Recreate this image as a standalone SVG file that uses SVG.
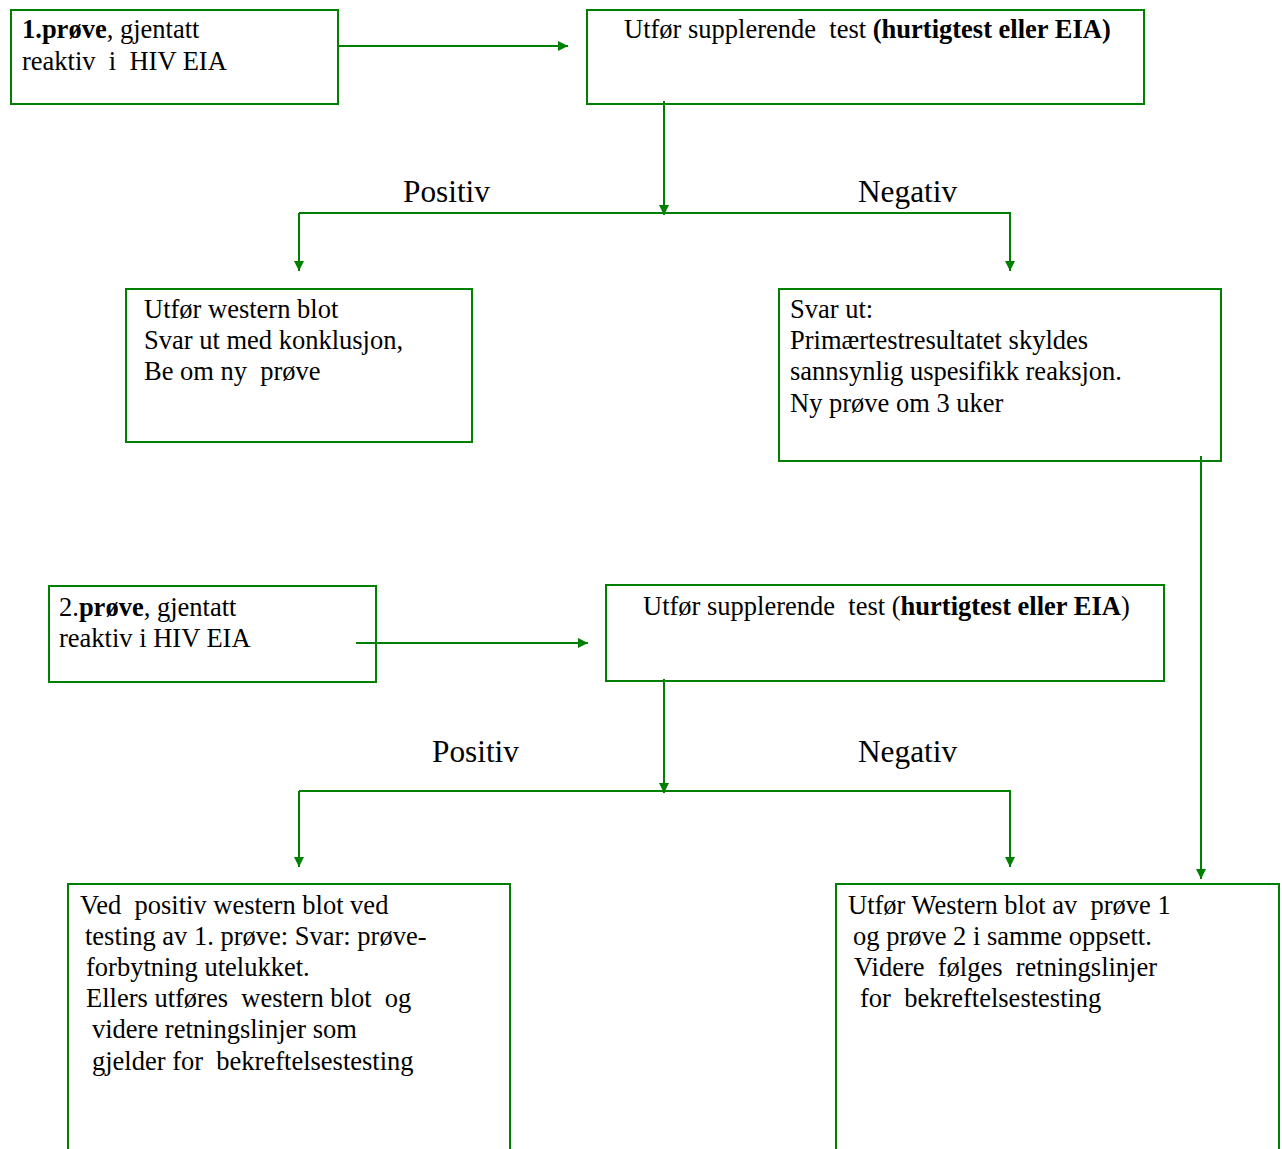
<svg xmlns="http://www.w3.org/2000/svg" width="1282" height="1149" viewBox="0 0 1282 1149">
<defs>
<style>
.box{fill:#fff;stroke:#008000;stroke-width:2}
.t{font-family:"Liberation Serif","Times New Roman",serif;font-size:26.5px;fill:#000;white-space:pre}
.lbl{font-family:"Liberation Serif","Times New Roman",serif;font-size:31.3px;fill:#000;white-space:pre}
.c{fill:none;stroke:#008000;stroke-width:2}
.b{font-weight:bold}
</style>
<marker id="ah" viewBox="0 0 10 10" refX="10" refY="5" markerWidth="5" markerHeight="5" orient="auto" markerUnits="strokeWidth">
<path d="M0,0 L10,5 L0,10 z" fill="#008000"/>
</marker>
</defs>
<rect width="1282" height="1149" fill="#fff"/>
<g id="n1"><rect class="box" x="11" y="10" width="327" height="94"/>
<text class="t" x="22" y="38"><tspan class="b">1.prøve</tspan>, gjentatt</text>
<text class="t" x="22" y="70">reaktiv  i  HIV EIA</text></g>
<g id="n2"><rect class="box" x="587" y="10" width="557" height="94"/>
<text class="t" x="624" y="38">Utfør supplerende  test <tspan class="b">(hurtigtest eller EIA)</tspan></text></g>
<g id="n3"><rect class="box" x="126" y="289" width="346" height="153"/>
<text class="t" x="144" y="318">Utfør western blot</text>
<text class="t" x="144" y="349">Svar ut med konklusjon,</text>
<text class="t" x="144" y="380">Be om ny  prøve</text></g>
<g id="n4"><rect class="box" x="779" y="289" width="442" height="172"/>
<text class="t" x="790" y="318">Svar ut:</text>
<text class="t" x="790" y="349">Primærtestresultatet skyldes</text>
<text class="t" x="790" y="380">sannsynlig uspesifikk reaksjon.</text>
<text class="t" x="790" y="412">Ny prøve om 3 uker</text></g>
<g id="n5"><rect class="box" x="49" y="586" width="327" height="96"/>
<text class="t" x="59" y="616">2.<tspan class="b">prøve</tspan>, gjentatt</text>
<text class="t" x="59" y="647">reaktiv i HIV EIA</text></g>
<g id="n6"><rect class="box" x="606" y="585" width="558" height="96"/>
<text class="t" x="643" y="615">Utfør supplerende  test (<tspan class="b">hurtigtest eller EIA</tspan>)</text></g>
<g id="n7"><rect class="box" x="68" y="884" width="442" height="280"/>
<text class="t" x="80" y="914">Ved  positiv western blot ved</text>
<text class="t" x="85" y="945">testing av 1. prøve: Svar: prøve-</text>
<text class="t" x="86" y="976">forbytning utelukket.</text>
<text class="t" x="86" y="1007">Ellers utføres  western blot  og</text>
<text class="t" x="92" y="1038">videre retningslinjer som</text>
<text class="t" x="92" y="1070">gjelder for  bekreftelsestesting</text></g>
<g id="n8"><rect class="box" x="836" y="884" width="443" height="280"/>
<text class="t" x="848" y="914">Utfør Western blot av  prøve 1</text>
<text class="t" x="853" y="945">og prøve 2 i samme oppsett.</text>
<text class="t" x="854" y="976">Videre  følges  retningslinjer</text>
<text class="t" x="860" y="1007">for  bekreftelsestesting</text></g>
<g id="labels">
<text class="lbl" x="403" y="202">Positiv</text>
<text class="lbl" x="858" y="202">Negativ</text>
<text class="lbl" x="432" y="762">Positiv</text>
<text class="lbl" x="858" y="762">Negativ</text>
</g>
<g id="connectors">
<line class="c" x1="338" y1="46" x2="568" y2="46" marker-end="url(#ah)"/>
<line class="c" x1="664" y1="101" x2="664" y2="215" marker-end="url(#ah)"/>
<polyline class="c" points="299,213 1010,213 1010,271" marker-end="url(#ah)"/>
<line class="c" x1="299" y1="213" x2="299" y2="271" marker-end="url(#ah)"/>
<line class="c" x1="1201" y1="456" x2="1201" y2="879" marker-end="url(#ah)"/>
<line class="c" x1="356" y1="643" x2="588" y2="643" marker-end="url(#ah)"/>
<line class="c" x1="664" y1="679" x2="664" y2="793" marker-end="url(#ah)"/>
<polyline class="c" points="299,791 1010,791 1010,867" marker-end="url(#ah)"/>
<line class="c" x1="299" y1="791" x2="299" y2="867" marker-end="url(#ah)"/>
</g>
</svg>
